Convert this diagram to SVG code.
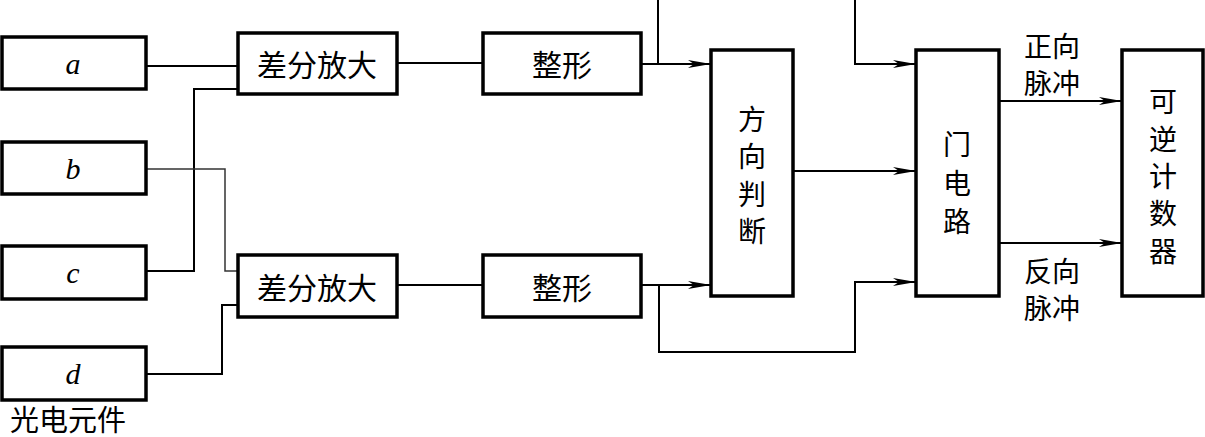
<svg xmlns="http://www.w3.org/2000/svg" width="1205" height="437" viewBox="0 0 1205 437">
<defs>
<marker id="arr" markerUnits="userSpaceOnUse" markerWidth="26" markerHeight="12" refX="23" refY="6" orient="auto">
<path d="M0,2 L23,6 L0,10 L6,6 Z" fill="#000"/>
</marker>
<style>
.box{fill:#fff;stroke:#000;stroke-width:3.5}
.ln{fill:none;stroke:#000;stroke-width:2}
.thin{fill:none;stroke:#333;stroke-width:1.5}
.cn{font-family:"Noto Sans CJK SC","Noto Sans CJK JP",sans-serif;font-size:28px;fill:#000;text-anchor:middle;dominant-baseline:central}
.lt{font-family:"Liberation Serif",serif;font-style:italic;font-size:30px;fill:#000;text-anchor:middle;dominant-baseline:central}
</style>
</defs>
<rect width="1205" height="437" fill="#fff"/>
<g id="connectors">
<polyline class="ln" points="146,66 238,66"/>
<polyline class="ln" points="146,271 194,271 194,89 238,89"/>
<polyline class="thin" points="146,169 225,169 225,271 238,271"/>
<polyline class="ln" points="146,374 222,374 222,305 238,305"/>
<polyline class="ln" points="397,63 483,63"/>
<polyline class="ln" points="397,285 483,285"/>
<polyline class="ln" points="641,64 711,64" marker-end="url(#arr)"/>
<polyline class="ln" points="658,0 658,64"/>
<polyline class="ln" points="641,285 711,285" marker-end="url(#arr)"/>
<polyline class="ln" points="659,285 659,352 855,352 855,282 916,282" marker-end="url(#arr)"/>
<polyline class="ln" points="855,0 855,64 916,64" marker-end="url(#arr)"/>
<polyline class="ln" points="793,171 916,171" marker-end="url(#arr)"/>
<polyline class="ln" points="999,101 1122,101" marker-end="url(#arr)"/>
<polyline class="ln" points="999,243 1122,243" marker-end="url(#arr)"/>
</g>
<g id="node-a"><rect class="box" x="2" y="37" width="144" height="52"/><text class="lt" x="73" y="63">a</text></g>
<g id="node-b"><rect class="box" x="2" y="142" width="144" height="52"/><text class="lt" x="73" y="168">b</text></g>
<g id="node-c"><rect class="box" x="2" y="246" width="144" height="53"/><text class="lt" x="73" y="272">c</text></g>
<g id="node-d"><rect class="box" x="2" y="347" width="144" height="53"/><text class="lt" x="73" y="373">d</text></g>
<g id="label-photo"><text class="cn" x="68" y="418" style="font-size:29px">光电元件</text></g>
<g id="node-diff1"><rect class="box" x="238" y="33" width="159" height="61"/><text class="cn" x="317" y="63" style="font-size:30px">差分放大</text></g>
<g id="node-diff2"><rect class="box" x="238" y="255" width="159" height="62"/><text class="cn" x="317" y="286" style="font-size:30px">差分放大</text></g>
<g id="node-shape1"><rect class="box" x="483" y="33" width="158" height="61"/><text class="cn" x="562" y="63" style="font-size:30px">整形</text></g>
<g id="node-shape2"><rect class="box" x="483" y="255" width="158" height="62"/><text class="cn" x="562" y="286" style="font-size:30px">整形</text></g>
<g id="node-dir"><rect class="box" x="711" y="50" width="82" height="246"/>
<text class="cn" x="752" y="118">方</text><text class="cn" x="752" y="155">向</text><text class="cn" x="752" y="193">判</text><text class="cn" x="752" y="230">断</text></g>
<g id="node-gate"><rect class="box" x="916" y="50" width="83" height="246"/>
<text class="cn" x="957" y="143">门</text><text class="cn" x="957" y="182">电</text><text class="cn" x="957" y="220">路</text></g>
<g id="node-counter"><rect class="box" x="1122" y="50" width="81" height="246"/>
<text class="cn" x="1163" y="100">可</text><text class="cn" x="1163" y="138">逆</text><text class="cn" x="1163" y="175">计</text><text class="cn" x="1163" y="212">数</text><text class="cn" x="1163" y="250">器</text></g>
<g id="label-fwd"><text class="cn" x="1052" y="45">正向</text><text class="cn" x="1052" y="82">脉冲</text></g>
<g id="label-rev"><text class="cn" x="1052" y="270">反向</text><text class="cn" x="1052" y="307">脉冲</text></g>
</svg>
